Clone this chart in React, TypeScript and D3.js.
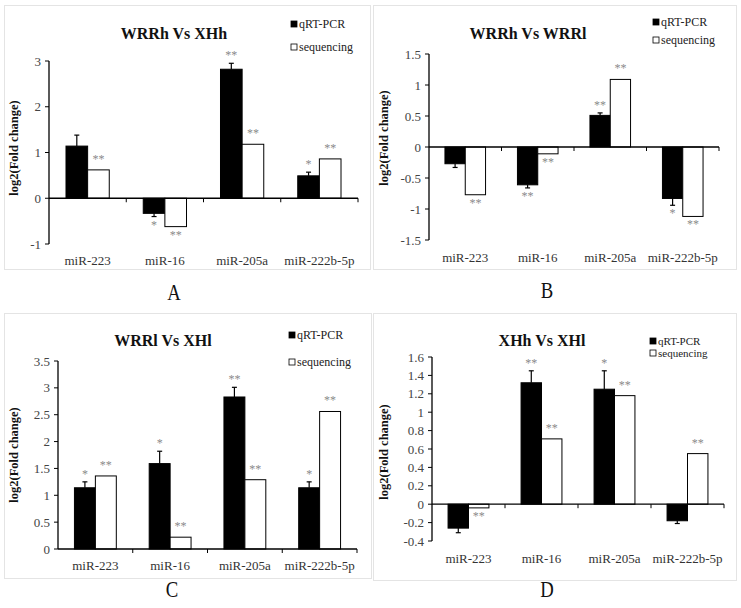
import React from "react";
import * as d3 from "d3";

const categories = ["miR-223", "miR-16", "miR-205a", "miR-222b-5p"];
const seriesNames = ["qRT-PCR", "sequencing"];

// Panel A: WRRh Vs XHh
const aQpcr = [1.14, -0.33, 2.82, 0.49];
const aQpcrErr = [0.24, 0.07, 0.13, 0.08];
const aSeq = [0.62, -0.62, 1.18, 0.86];
const aQpcrStars = ["", "*", "**", "*"];
const aSeqStars = ["**", "**", "**", "**"];
const aTicks = [-1, 0, 1, 2, 3];

// Panel B: WRRh Vs WRRl
const bQpcr = [-0.27, -0.61, 0.51, -0.83];
const bQpcrErr = [0.06, 0.05, 0.04, 0.11];
const bSeq = [-0.77, -0.11, 1.09, -1.12];
const bQpcrStars = ["", "**", "**", "*"];
const bSeqStars = ["**", "**", "**", "**"];
const bTicks = [-1.5, -1, -0.5, 0, 0.5, 1, 1.5];

// Panel C: WRRl Vs XHl
const cQpcr = [1.14, 1.59, 2.83, 1.14];
const cQpcrErr = [0.11, 0.23, 0.18, 0.11];
const cSeq = [1.36, 0.22, 1.29, 2.56];
const cQpcrStars = ["*", "*", "**", "*"];
const cSeqStars = ["**", "**", "**", "**"];
const cTicks = [0, 0.5, 1, 1.5, 2, 2.5, 3, 3.5];

// Panel D: XHh Vs XHl
const dQpcr = [-0.26, 1.32, 1.25, -0.18];
const dQpcrErr = [0.05, 0.13, 0.2, 0.03];
const dSeq = [-0.04, 0.71, 1.18, 0.55];
const dQpcrStars = ["", "**", "*", ""];
const dSeqStars = ["**", "**", "**", "**"];
const dTicks = [-0.4, -0.2, 0, 0.2, 0.4, 0.6, 0.8, 1, 1.2, 1.4, 1.6];

const SERIF = "'Liberation Serif', 'Times New Roman', serif";

type PanelProps = {
  title: string;
  letter: string;
  qpcr: number[];
  err: number[];
  seq: number[];
  qStars: string[];
  sStars: string[];
  ticks: number[];
  box: [number, number, number, number];
  xRange: [number, number];
  yRange: [number, number];
  titlePos: [number, number];
  legendPos: [number, number, number];
  legendFont: number;
  yLabelPos: [number, number];
  catY: number;
  letterPos: [number, number];
};

function Panel(p: PanelProps) {
  const x = d3.scaleBand<string>().domain(categories).range(p.xRange).padding(0);
  const ext = d3.extent(p.ticks) as [number, number];
  const y = d3.scaleLinear().domain(ext).range(p.yRange);
  const bw = x.bandwidth();
  const groupW = bw * 0.56;
  const barW = groupW / 2;
  const y0 = y(0);
  const fmt = (v: number) => String(Math.round(v * 10) / 10);
  const starOffset = (v: number, end: number) =>
    v >= 0 ? end - 4 : end + 12;

  return (
    <g>
      <rect
        x={p.box[0]}
        y={p.box[1]}
        width={p.box[2]}
        height={p.box[3]}
        fill="none"
        stroke="#c8c8c8"
        strokeWidth={1}
        strokeDasharray="1,1"
      />
      <text
        x={p.titlePos[0]}
        y={p.titlePos[1]}
        textAnchor="middle"
        fontFamily={SERIF}
        fontWeight="bold"
        fontSize={16}
        fill="#111"
      >
        {p.title}
      </text>
      {/* legend */}
      {seriesNames.map((s, i) => (
        <g key={s}>
          <rect
            x={p.legendPos[0]}
            y={p.legendPos[1] + i * p.legendPos[2] - 7}
            width={6}
            height={6}
            fill={i === 0 ? "#000" : "#fff"}
            stroke="#000"
            strokeWidth={0.8}
          />
          <text
            x={p.legendPos[0] + 8}
            y={p.legendPos[1] + i * p.legendPos[2]}
            fontFamily={SERIF}
            fontSize={p.legendFont}
            fill="#222"
          >
            {s}
          </text>
        </g>
      ))}
      {/* y label */}
      <text
        transform={`translate(${p.yLabelPos[0]},${p.yLabelPos[1]}) rotate(-90)`}
        textAnchor="middle"
        dominantBaseline="middle"
        fontFamily={SERIF}
        fontWeight="bold"
        fontSize={12.5}
        fill="#111"
      >
        log2(Fold change)
      </text>
      {/* bars */}
      {categories.map((c, i) => {
        const gx = (x(c) as number) + (bw - groupW) / 2;
        const q = p.qpcr[i];
        const s = p.seq[i];
        const qTop = Math.min(y(q), y0);
        const sTop = Math.min(y(s), y0);
        const qEnd = y(q + Math.sign(q) * p.err[i]);
        const qx = gx + barW / 2;
        const sx = gx + barW * 1.5;
        return (
          <g key={c}>
            <rect x={gx} y={qTop} width={barW} height={Math.abs(y(q) - y0)} fill="#000" stroke="#000" strokeWidth={1} />
            <rect x={gx + barW} y={sTop} width={barW} height={Math.abs(y(s) - y0)} fill="#fff" stroke="#000" strokeWidth={1} />
            <line x1={qx} x2={qx} y1={y(q)} y2={qEnd} stroke="#000" strokeWidth={1.2} />
            <line x1={qx - 2.5} x2={qx + 2.5} y1={qEnd} y2={qEnd} stroke="#000" strokeWidth={1.2} />
            {p.qStars[i] && (
              <text x={qx} y={starOffset(q, qEnd)} textAnchor="middle" fontFamily={SERIF} fontSize={12} fill="#8a8a8a">
                {p.qStars[i]}
              </text>
            )}
            {p.sStars[i] && (
              <text x={sx} y={starOffset(s, y(s)) - (s >= 0 ? 3 : 0)} textAnchor="middle" fontFamily={SERIF} fontSize={12} fill="#8a8a8a">
                {p.sStars[i]}
              </text>
            )}
            <text
              x={(x(c) as number) + bw / 2}
              y={p.catY + 4.5}
              textAnchor="middle"
              fontFamily={SERIF}
              fontSize={13}
              fill="#333"
            >
              {c}
            </text>
          </g>
        );
      })}
      {/* x axis */}
      <line x1={p.xRange[0]} x2={p.xRange[1]} y1={y0} y2={y0} stroke="#000" strokeWidth={1.3} />
      {categories.map((c, i) => {
        const tx = (x(c) as number) + bw;
        return <line key={"xt" + i} x1={tx} x2={tx} y1={y0} y2={y0 + 4} stroke="#000" strokeWidth={1} />;
      })}
      {/* y axis */}
      <line x1={p.xRange[0]} x2={p.xRange[0]} y1={p.yRange[0]} y2={p.yRange[1]} stroke="#000" strokeWidth={1.3} />
      {p.ticks.map((t) => (
        <g key={"yt" + t}>
          <line x1={p.xRange[0] - 4} x2={p.xRange[0]} y1={y(t)} y2={y(t)} stroke="#000" strokeWidth={1} />
          <text
            x={p.xRange[0] - 8}
            y={y(t) + 4.5}
            textAnchor="end"
            fontFamily={SERIF}
            fontSize={13}
            fill="#444"
          >
            {fmt(t)}
          </text>
        </g>
      ))}
      <text
        transform={`translate(${p.letterPos[0]},${p.letterPos[1]}) scale(0.78,1)`}
        textAnchor="middle"
        fontFamily={SERIF}
        fontSize={24}
        fill="#111"
      >
        {p.letter}
      </text>
    </g>
  );
}

export default function App() {
  return (
    <svg width={741} height={608} style={{ position: "absolute", left: 0, top: 0, background: "#fff" }}>
      <rect x={0} y={0} width={741} height={608} fill="#fff" />
      <Panel
        title="WRRh Vs XHh"
        letter="A"
        qpcr={aQpcr}
        err={aQpcrErr}
        seq={aSeq}
        qStars={aQpcrStars}
        sStars={aSeqStars}
        ticks={aTicks}
        box={[4.5, 5.5, 366, 264]}
        xRange={[49, 358]}
        yRange={[244, 61]}
        titlePos={[174, 39]}
        legendPos={[291, 28, 23]}
        legendFont={12}
        yLabelPos={[15, 148]}
        catY={260}
        letterPos={[174, 300]}
      />
      <Panel
        title="WRRh Vs WRRl"
        letter="B"
        qpcr={bQpcr}
        err={bQpcrErr}
        seq={bSeq}
        qStars={bQpcrStars}
        sStars={bSeqStars}
        ticks={bTicks}
        box={[373.5, 5.5, 363, 264]}
        xRange={[429, 719]}
        yRange={[240, 54]}
        titlePos={[528, 39]}
        legendPos={[653, 26, 18]}
        legendFont={12}
        yLabelPos={[385, 138]}
        catY={257}
        letterPos={[547, 298]}
      />
      <Panel
        title="WRRl  Vs XHl"
        letter="C"
        qpcr={cQpcr}
        err={cQpcrErr}
        seq={cSeq}
        qStars={cQpcrStars}
        sStars={cSeqStars}
        ticks={cTicks}
        box={[4.5, 313.5, 367, 265]}
        xRange={[58, 357]}
        yRange={[549, 361]}
        titlePos={[163, 346]}
        legendPos={[289, 339, 27]}
        legendFont={12}
        yLabelPos={[15, 455]}
        catY={565}
        letterPos={[172, 597]}
      />
      <Panel
        title="XHh Vs XHl"
        letter="D"
        qpcr={dQpcr}
        err={dQpcrErr}
        seq={dSeq}
        qStars={dQpcrStars}
        sStars={dSeqStars}
        ticks={dTicks}
        box={[373.5, 313.5, 363, 267]}
        xRange={[432, 724]}
        yRange={[541, 357]}
        titlePos={[542, 346]}
        legendPos={[650, 345, 12]}
        legendFont={11}
        yLabelPos={[385, 452]}
        catY={558}
        letterPos={[547, 597]}
      />
    </svg>
  );
}
